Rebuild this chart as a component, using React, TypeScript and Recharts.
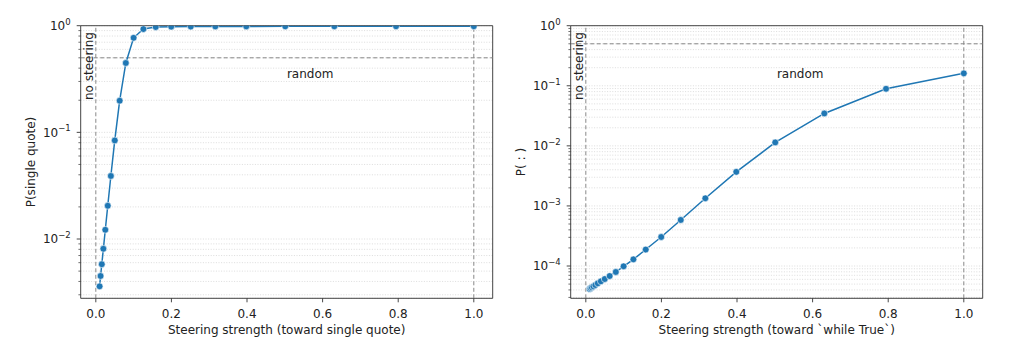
import React from 'react';
import {
  LineChart,
  Line,
  XAxis,
  YAxis,
  CartesianGrid,
  ReferenceLine,
  ReferenceArea
} from 'recharts';

// steering strengths (log-spaced, shared by both panels)
const STRENGTH = [
  0.01, 0.0126, 0.0158, 0.02, 0.0251, 0.0316, 0.0398, 0.0501, 0.0631, 0.0794,
  0.1, 0.1259, 0.1585, 0.1995, 0.2512, 0.3162, 0.3981, 0.5012, 0.631, 0.7943, 1.0
];

const P_QUOTE = [
  0.0036, 0.0045, 0.0058, 0.0081, 0.0122, 0.0205, 0.039, 0.084, 0.198, 0.447,
  0.77, 0.93, 0.972, 0.98, 0.982, 0.984, 0.985, 0.986, 0.987, 0.988, 0.988
];

const P_COLON = [
  4.15e-5, 4.28e-5, 4.42e-5, 4.59e-5, 4.82e-5, 5.15e-5, 5.56e-5, 6.07e-5, 6.81e-5, 7.95e-5,
  9.89e-5, 1.29e-4, 1.88e-4, 3.04e-4, 5.84e-4, 1.34e-3, 3.69e-3, 1.14e-2, 3.46e-2, 8.9e-2, 0.161
];

const X_TICKS = [0, 0.2, 0.4, 0.6, 0.8, 1.0];
const LEFT_MAJORS = [0.01, 0.1, 1];
const RIGHT_MAJORS = [1e-4, 1e-3, 1e-2, 1e-1, 1];

const FONT = 'DejaVu Sans, sans-serif';
const BLUE = '#1f77b4';
const TOP = 25.7;

const quoteRows = STRENGTH.map((s, i) => ({ s, p: P_QUOTE[i] }));
const colonRows = STRENGTH.map((s, i) => ({ s, p: P_COLON[i] }));

// majors plus the 2..9 minors inside [lo, 1]
const logTicks = (lo: number) => {
  const out: number[] = [];
  const e0 = Math.floor(Math.log10(lo));
  for (let e = e0; e < 0; e++) {
    for (let m = 1; m < 10; m++) {
      const v = parseFloat((m * Math.pow(10, e)).toPrecision(6));
      if (v >= lo) out.push(v);
    }
  }
  out.push(1);
  return out;
};

const LogTick = (props: any) => {
  const { x, y, payload, majors } = props;
  const v = payload.value;
  const isMajor = majors.some((m: number) => Math.abs(m - v) / m < 1e-6);
  const exp = Math.round(Math.log10(v));
  return (
    <g>
      <line x1={x - (isMajor ? 4 : 2.3)} x2={x} y1={y} y2={y} stroke="#333" strokeWidth={isMajor ? 0.9 : 0.7} />
      {isMajor && (
        <text x={x - 10} y={y + 4.3} textAnchor="end" fontSize={12} fill="#222" fontFamily={FONT}>
          10<tspan dy={-5.5} fontSize={8.5}>{exp === 0 ? '0' : '\u2212' + Math.abs(exp)}</tspan>
        </text>
      )}
    </g>
  );
};

interface PanelProps {
  left: number;
  yWidth: number;
  right: number;
  rows: { s: number; p: number }[];
  yMin: number;
  majors: number[];
  yLabel: string;
  xLabel: string;
}

const Panel: React.FC<PanelProps> = ({ left, yWidth, right, rows, yMin, majors, yLabel, xLabel }) => {
  const ticks = logTicks(yMin);
  return (
    <div style={{ position: 'absolute', left, top: 0 }}>
      <LineChart width={512} height={351} data={rows} margin={{ top: TOP, right, bottom: 0, left: 0 }}>
        <CartesianGrid vertical={false} stroke="#d4d4d4" strokeWidth={0.8} strokeDasharray="1 1.6" />
        <XAxis
          type="number"
          dataKey="s"
          domain={[-0.04, 1.05]}
          ticks={X_TICKS}
          interval={0}
          allowDataOverflow
          height={52.7}
          axisLine={false}
          tickLine={{ stroke: '#333', strokeWidth: 0.9 }}
          tickSize={4}
          tickMargin={6.7}
          tickFormatter={(v: number) => v.toFixed(1)}
          tick={{ fontSize: 12, fill: '#222', fontFamily: FONT }}
          label={(p: any) => (
            <text
              x={p.viewBox.x + p.viewBox.width / 2}
              y={p.viewBox.y + 35.5}
              textAnchor="middle"
              fontSize={12}
              fill="#222"
              fontFamily={FONT}
            >
              {xLabel}
            </text>
          )}
        />
        <YAxis
          type="number"
          scale="log"
          domain={[yMin, 1]}
          ticks={ticks}
          interval={0}
          allowDataOverflow
          width={yWidth}
          axisLine={false}
          tickLine={false}
          tickSize={0}
          tickMargin={0}
          tick={<LogTick majors={majors} />}
          label={(p: any) => {
            const cx = p.viewBox.x + p.viewBox.width - 49.5;
            const cy = p.viewBox.y + p.viewBox.height / 2;
            return (
              <text
                x={cx}
                y={cy}
                transform={`rotate(-90, ${cx}, ${cy})`}
                textAnchor="middle"
                dominantBaseline="central"
                fontSize={12}
                fill="#222"
                fontFamily={FONT}
              >
                {yLabel}
              </text>
            );
          }}
        />
        <ReferenceArea x1={-0.04} x2={1.05} y1={yMin} y2={1} fill="none" stroke="#444" strokeWidth={1} ifOverflow="visible" />
        <ReferenceLine
          y={0.5}
          stroke="#888"
          strokeWidth={1}
          strokeDasharray="4 2.5"
          label={(p: any) => (
            <text
              x={p.viewBox.x + p.viewBox.width * 0.557}
              y={TOP + 48}
              textAnchor="middle"
              dominantBaseline="central"
              fontSize={12}
              fill="#222"
              fontFamily={FONT}
            >
              random
            </text>
          )}
        />
        <ReferenceLine
          x={0}
          stroke="#888"
          strokeWidth={1}
          strokeDasharray="4 2.5"
          label={(p: any) => {
            const tx = p.viewBox.x - 2.7;
            const ty = p.viewBox.y + 6.3;
            return (
              <text
                x={tx}
                y={ty}
                transform={`rotate(-90, ${tx}, ${ty})`}
                textAnchor="end"
                fontSize={12}
                fill="#222"
                fontFamily={FONT}
              >
                no steering
              </text>
            );
          }}
        />
        <ReferenceLine x={1} stroke="#888" strokeWidth={1} strokeDasharray="4 2.5" />
        <Line
          type="linear"
          dataKey="p"
          stroke={BLUE}
          strokeWidth={1.5}
          dot={{ r: 3.4, fill: BLUE, stroke: '#fff', strokeWidth: 0.6 }}
          isAnimationActive={false}
        />
      </LineChart>
    </div>
  );
};

export default function App() {
  return (
    <div style={{ position: 'absolute', left: 0, top: 0, width: 1024, height: 351, background: '#fff' }}>
      <Panel
        left={0}
        yWidth={80.7}
        right={19.3}
        rows={quoteRows}
        yMin={0.00278}
        majors={LEFT_MAJORS}
        yLabel="P(single quote)"
        xLabel="Steering strength (toward single quote)"
      />
      <Panel
        left={512}
        yWidth={58.7}
        right={41.3}
        rows={colonRows}
        yMin={2.9e-5}
        majors={RIGHT_MAJORS}
        yLabel="P( : )"
        xLabel="Steering strength (toward `while True`)"
      />
    </div>
  );
}
